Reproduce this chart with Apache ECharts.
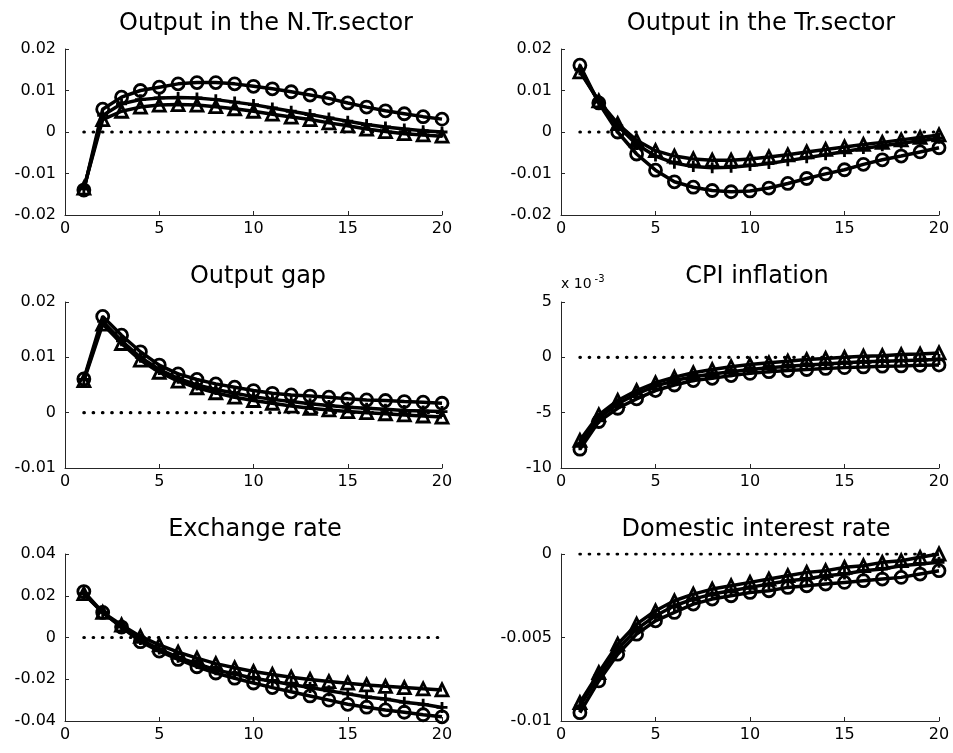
<!DOCTYPE html>
<html><head><meta charset="utf-8">
<script src="https://cdn.jsdelivr.net/npm/echarts@6/dist/echarts.min.js"></script>
<style>html,body{margin:0;padding:0;background:#fff}#c{width:953px;height:753px}</style>
</head><body><div id="c"></div>
<script>
const periods = [1,2,3,4,5,6,7,8,9,10,11,12,13,14,15,16,17,18,19,20];
const xTicks = [0, 5, 10, 15, 20];
const panelTitles = ['Output in the N.Tr.sector','Output in the Tr.sector','Output gap','CPI inflation','Exchange rate','Domestic interest rate'];

// Output in the N.Tr. sector
const ntrCircle   = [-0.0140,0.0055,0.0084,0.0100,0.0108,0.0116,0.0119,0.0119,0.0116,0.0110,0.0104,0.0097,0.0089,0.0081,0.0070,0.0060,0.0051,0.0044,0.0037,0.0031];
const ntrPlus     = [-0.0137,0.0040,0.0068,0.0078,0.0082,0.0083,0.0082,0.0078,0.0072,0.0066,0.0058,0.0050,0.0042,0.0034,0.0026,0.0018,0.0012,0.0007,0.0003,0.0000];
const ntrTriangle = [-0.0135,0.0030,0.0050,0.0060,0.0065,0.0066,0.0065,0.0061,0.0056,0.0050,0.0043,0.0036,0.0030,0.0022,0.0015,0.0007,0.0001,-0.0004,-0.0007,-0.0010];
// Output in the Tr. sector
const trCircle   = [0.0161,0.0070,0.0000,-0.0053,-0.0092,-0.0120,-0.0133,-0.0141,-0.0144,-0.0142,-0.0135,-0.0124,-0.0112,-0.0101,-0.0091,-0.0078,-0.0067,-0.0058,-0.0048,-0.0038];
const trPlus     = [0.0150,0.0072,0.0015,-0.0030,-0.0058,-0.0075,-0.0083,-0.0086,-0.0085,-0.0081,-0.0076,-0.0069,-0.0062,-0.0055,-0.0047,-0.0040,-0.0033,-0.0027,-0.0021,-0.0015];
const trTriangle = [0.0145,0.0075,0.0020,-0.0020,-0.0045,-0.0058,-0.0065,-0.0068,-0.0068,-0.0065,-0.0060,-0.0055,-0.0048,-0.0042,-0.0036,-0.0030,-0.0025,-0.0019,-0.0013,-0.0007];
// Output gap
const gapCircle   = [0.0061,0.0174,0.0140,0.0110,0.0086,0.0070,0.0060,0.0052,0.0046,0.0040,0.0035,0.0032,0.0030,0.0028,0.0025,0.0023,0.0022,0.0020,0.0019,0.0017];
const gapPlus     = [0.0060,0.0165,0.0130,0.0100,0.0078,0.0062,0.0050,0.0042,0.0035,0.0029,0.0024,0.0020,0.0016,0.0013,0.0010,0.0008,0.0006,0.0004,0.0003,0.0002];
const gapTriangle = [0.0058,0.0160,0.0125,0.0095,0.0073,0.0057,0.0045,0.0036,0.0028,0.0022,0.0017,0.0012,0.0008,0.0005,0.0002,0.0000,-0.0002,-0.0004,-0.0006,-0.0008];
// CPI inflation (x 10^-3)
const cpiCircle   = [-8.3,-5.8,-4.6,-3.75,-3.0,-2.5,-2.1,-1.9,-1.65,-1.45,-1.3,-1.2,-1.1,-1.0,-0.93,-0.87,-0.8,-0.78,-0.72,-0.7];
const cpiPlus     = [-7.9,-5.5,-4.2,-3.3,-2.6,-2.1,-1.75,-1.5,-1.3,-1.1,-0.95,-0.8,-0.7,-0.6,-0.5,-0.4,-0.35,-0.3,-0.25,-0.2];
const cpiTriangle = [-7.5,-5.2,-3.9,-3.0,-2.3,-1.8,-1.4,-1.1,-0.85,-0.65,-0.5,-0.35,-0.2,-0.1,0.0,0.1,0.15,0.25,0.3,0.4];
// Exchange rate
const exCircle   = [0.0220,0.0120,0.0050,-0.0020,-0.0065,-0.0105,-0.0140,-0.0170,-0.0195,-0.0218,-0.0240,-0.0260,-0.0280,-0.0300,-0.0320,-0.0334,-0.0347,-0.0358,-0.0370,-0.0380];
const exPlus     = [0.0210,0.0120,0.0050,-0.0010,-0.0055,-0.0095,-0.0125,-0.0155,-0.0175,-0.0195,-0.0210,-0.0225,-0.0240,-0.0255,-0.0270,-0.0285,-0.0295,-0.0310,-0.0320,-0.0335];
const exTriangle = [0.0210,0.0120,0.0060,0.0005,-0.0035,-0.0070,-0.0099,-0.0125,-0.0145,-0.0163,-0.0177,-0.0190,-0.0201,-0.0211,-0.0219,-0.0227,-0.0234,-0.0240,-0.0246,-0.0251];
// Domestic interest rate
const irCircle   = [-0.0095,-0.0076,-0.0060,-0.0048,-0.0040,-0.0035,-0.0030,-0.0027,-0.0025,-0.0023,-0.0022,-0.0020,-0.0019,-0.0018,-0.0017,-0.0016,-0.0015,-0.0014,-0.0012,-0.0010];
const irPlus     = [-0.0091,-0.0073,-0.0057,-0.0045,-0.0037,-0.0031,-0.0027,-0.0024,-0.0022,-0.0020,-0.0018,-0.0016,-0.0015,-0.0013,-0.0012,-0.0010,-0.0009,-0.0007,-0.0006,-0.0005];
const irTriangle = [-0.0089,-0.0071,-0.0054,-0.0042,-0.0034,-0.0028,-0.0024,-0.0021,-0.0019,-0.0017,-0.0015,-0.0013,-0.0011,-0.0010,-0.0008,-0.0007,-0.0005,-0.0004,-0.0002,0.0000];

const yMins = [-0.02,-0.02,-0.01,-10,-0.04,-0.01];
const yMaxs = [0.02,0.02,0.02,5,0.04,0];
const yIntervals = [0.01,0.01,0.01,5,0.02,0.005];
const zeroLine = [0, 0];

const panelData = [
  [ntrCircle, ntrPlus, ntrTriangle],
  [trCircle, trPlus, trTriangle],
  [gapCircle, gapPlus, gapTriangle],
  [cpiCircle, cpiPlus, cpiTriangle],
  [exCircle, exPlus, exTriangle],
  [irCircle, irPlus, irTriangle]
];

const gridPos = [
  {left:65, top:49, width:377, height:166},
  {left:561, top:49, width:378, height:166},
  {left:65, top:302, width:377, height:166},
  {left:561, top:302, width:378, height:166},
  {left:65, top:554, width:377, height:167},
  {left:561, top:554, width:378, height:167}
];
const titleCenters = [[266,12],[761,12],[258,265],[757,265],[255,518],[756,518]];

const FONT = 'DejaVu Sans, Liberation Sans, Arial, sans-serif';
const plusPath = 'path://M5,0L5,10M0,5L10,5';
const symbols = ['circle', plusPath, 'triangle'];

const fmt = v => { const r = parseFloat(v.toFixed(6)); return r === 0 ? '0' : String(r); };

const option = {
  animation: false,
  backgroundColor: '#fff',
  title: panelTitles.map((t, i) => ({
    text: t, left: titleCenters[i][0], top: titleCenters[i][1], textAlign: 'center', padding: 0,
    textStyle: {fontFamily: FONT, fontSize: 24, fontWeight: 'normal', color: '#000'}
  })),
  grid: gridPos,
  xAxis: gridPos.map((g, i) => ({
    type: 'value', gridIndex: i, min: xTicks[0], max: xTicks[xTicks.length-1], interval: xTicks[1]-xTicks[0],
    splitLine: {show: false},
    axisLine: {show: true, onZero: false, lineStyle: {color: '#262626', width: 1}},
    axisTick: {show: true, inside: true, length: 4, lineStyle: {color: '#262626'}},
    axisLabel: {fontFamily: FONT, fontSize: 16, color: '#000', margin: 6}
  })),
  yAxis: gridPos.map((g, i) => ({
    type: 'value', gridIndex: i, min: yMins[i], max: yMaxs[i], interval: yIntervals[i],
    splitLine: {show: false},
    axisLine: {show: true, onZero: false, lineStyle: {color: '#262626', width: 1}},
    axisTick: {show: true, inside: true, length: 4, lineStyle: {color: '#262626'}},
    axisLabel: {fontFamily: FONT, fontSize: 16, color: '#000', margin: 9, formatter: fmt},
    name: i === 3 ? '{a|x 10}{b|-3}' : '',
    nameLocation: 'end', nameGap: 8,
    nameTextStyle: {align: 'left', verticalAlign: 'bottom', rich: {
      a: {fontFamily: FONT, fontSize: 14, color: '#000'},
      b: {fontFamily: FONT, fontSize: 10, color: '#000', verticalAlign: 'top', padding: [0,0,10,3]}
    }}
  })),
  series: []
};

panelData.forEach((sets, i) => {
  option.series.push({
    type: 'line', xAxisIndex: i, yAxisIndex: i, symbol: 'none', silent: true, z: 1,
    data: [[periods[0], zeroLine[0]], [periods[periods.length-1], zeroLine[1]]],
    lineStyle: {color: '#000', width: 3.2, type: [0.5, 8.8], cap: 'round'}
  });
  sets.forEach((vals, k) => {
    option.series.push({
      type: 'line', xAxisIndex: i, yAxisIndex: i, clip: false, z: 2 + k,
      symbol: symbols[k], symbolSize: k === 1 ? 11 : 12, showAllSymbol: true,
      data: periods.map((p, j) => [p, vals[j]]),
      lineStyle: {color: '#000', width: 3.5},
      itemStyle: {color: 'rgba(0,0,0,0)', borderColor: '#000', borderWidth: 2.8},
      emphasis: {disabled: true}
    });
  });
});

const chart = echarts.init(document.getElementById('c'));
chart.setOption(option);
</script></body></html>
